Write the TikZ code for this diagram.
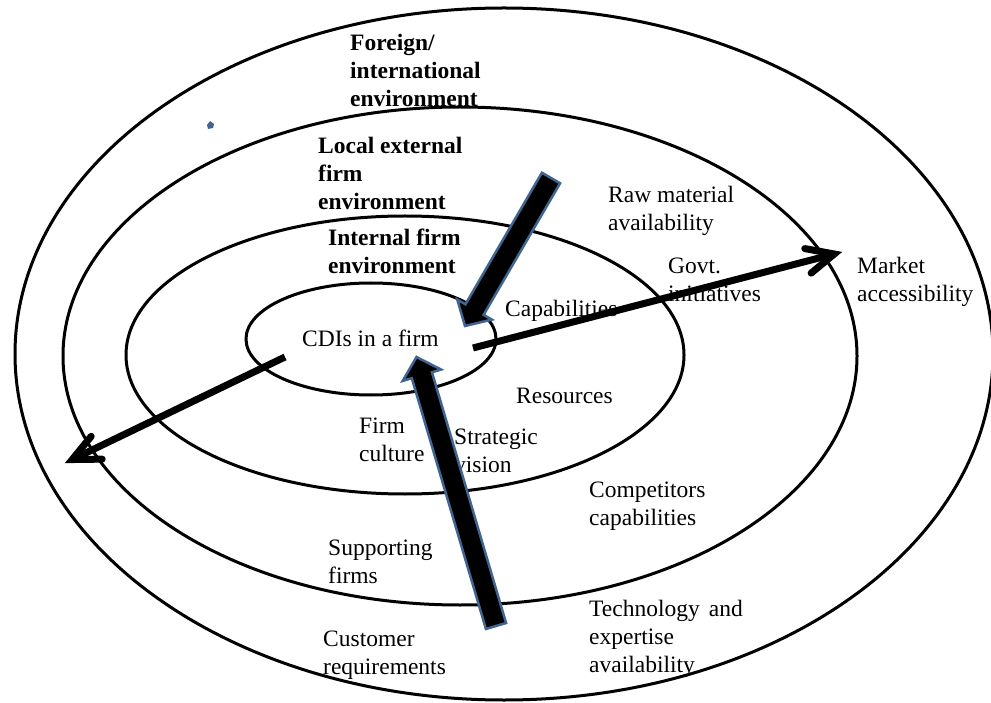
\documentclass[tikz,border=0pt]{standalone}
\usepackage{fontspec}
\setmainfont{Liberation Serif}
\usetikzlibrary{calc}
\definecolor{edgeblue}{RGB}{65,101,145}
\newcommand\lbsize{\fontsize{23.5}{28}\selectfont}
% Block arrow: #1 prefix for helper coordinates, #2 tip, #3 tail
\newcommand\BlockArrow[3]{%
  \coordinate (#1n) at ($(#2)!19pt!(#3)$);
  \draw[block] ($(#3)!10.5pt!90:(#2)$) -- ($(#1n)!10.5pt!90:(#2)$)
    -- ($(#1n)!20pt!90:(#2)$) -- (#2) -- ($(#1n)!20pt!-90:(#2)$)
    -- ($(#1n)!10.5pt!-90:(#2)$) -- ($(#3)!10.5pt!-90:(#2)$) -- cycle;}
% Thick line arrow with an open V head: #1 prefix, #2 start, #3 tip
\newcommand\FlowArrow[3]{%
  \coordinate (#1v) at ($(#3)!8pt!(#2)$);
  \draw[flowline] (#2) -- (#1v);
  \draw[barb] ($(#1v)!30pt!25:(#2)$) -- (#1v) -- ($(#1v)!30pt!-25:(#2)$);}
\begin{document}
\begin{tikzpicture}[x=1pt,y=-1pt,
  ring/.style={draw=black, line width=3pt},
  lbl/.style={align=left, anchor=west, inner sep=0pt, font=\lbsize},
  headlbl/.style={lbl, font=\lbsize\bfseries},
  flowline/.style={line width=7pt},
  barb/.style={line width=7pt, line cap=round, line join=miter},
  block/.style={fill=black, draw=edgeblue, line width=2.5pt, line join=miter}]
\useasboundingbox (0,0) rectangle (991,703);
\fill[white] (0,0) rectangle (991,703);

% labels
\node[headlbl] (foreign) at (350,73) {\strut Foreign/\\international\\environment\strut};
\node[headlbl] (local) at (318,176) {\strut Local external\\firm\\environment\strut};
\node[headlbl] (internal) at (328,254) {\strut Internal firm\\environment\strut};
\node[lbl] (raw) at (608,211) {\strut Raw material\\availability\strut};
\node[lbl] (govt) at (668,282) {\strut Govt.\\initiatives\strut};
\node[lbl] (market) at (857,282) {\strut Market\\accessibility\strut};
\node[lbl] (capab) at (505,311) {\strut Capabilities\strut};
\node[lbl] (cdi) at (302,341) {\strut CDIs in a firm\strut};
\node[lbl] (resources) at (516,398) {\strut Resources\strut};
\node[lbl] (culture) at (359,442) {\strut Firm\\culture\strut};
\node[lbl] (vision) at (454,453) {\strut Strategic\\vision\strut};
\node[lbl] (competitors) at (589,506) {\strut Competitors\\capabilities\strut};
\node[lbl] (supporting) at (328,564) {\strut Supporting\\firms\strut};
\node[lbl] (customer) at (323,655) {\strut Customer\\requirements\strut};
\node[lbl] (technology) at (589,639) {\strut Technology\hspace{9pt}and\\expertise\\availability\strut};

% nested environments
\draw[ring] (504,354) ellipse [x radius=489, y radius=346];
\draw[ring] (460,356) ellipse [x radius=397, y radius=249];
\draw[ring] (405,355) ellipse [x radius=279, y radius=139];
\draw[ring] (371,339) ellipse [x radius=125, y radius=56];

% stray mark
\fill[edgeblue] (207,125) -- (210,121) -- (214,124) -- (213,128) -- (208,129) -- cycle;

% outward flows
\coordinate (outR) at (473,348);
\coordinate (mktTip) at (842,252);
\coordinate (outL) at (285,357);
\coordinate (worldTip) at (65,463);
\FlowArrow{mktA}{outR}{mktTip}
\FlowArrow{worldA}{outL}{worldTip}

% inward flows
\coordinate (topTip) at (465,326);
\coordinate (topTail) at (551,178);
\coordinate (lowTip) at (416.5,357);
\coordinate (lowTail) at (496,626);
\BlockArrow{topA}{topTip}{topTail}
\BlockArrow{lowA}{lowTip}{lowTail}
\end{tikzpicture}
\end{document}
